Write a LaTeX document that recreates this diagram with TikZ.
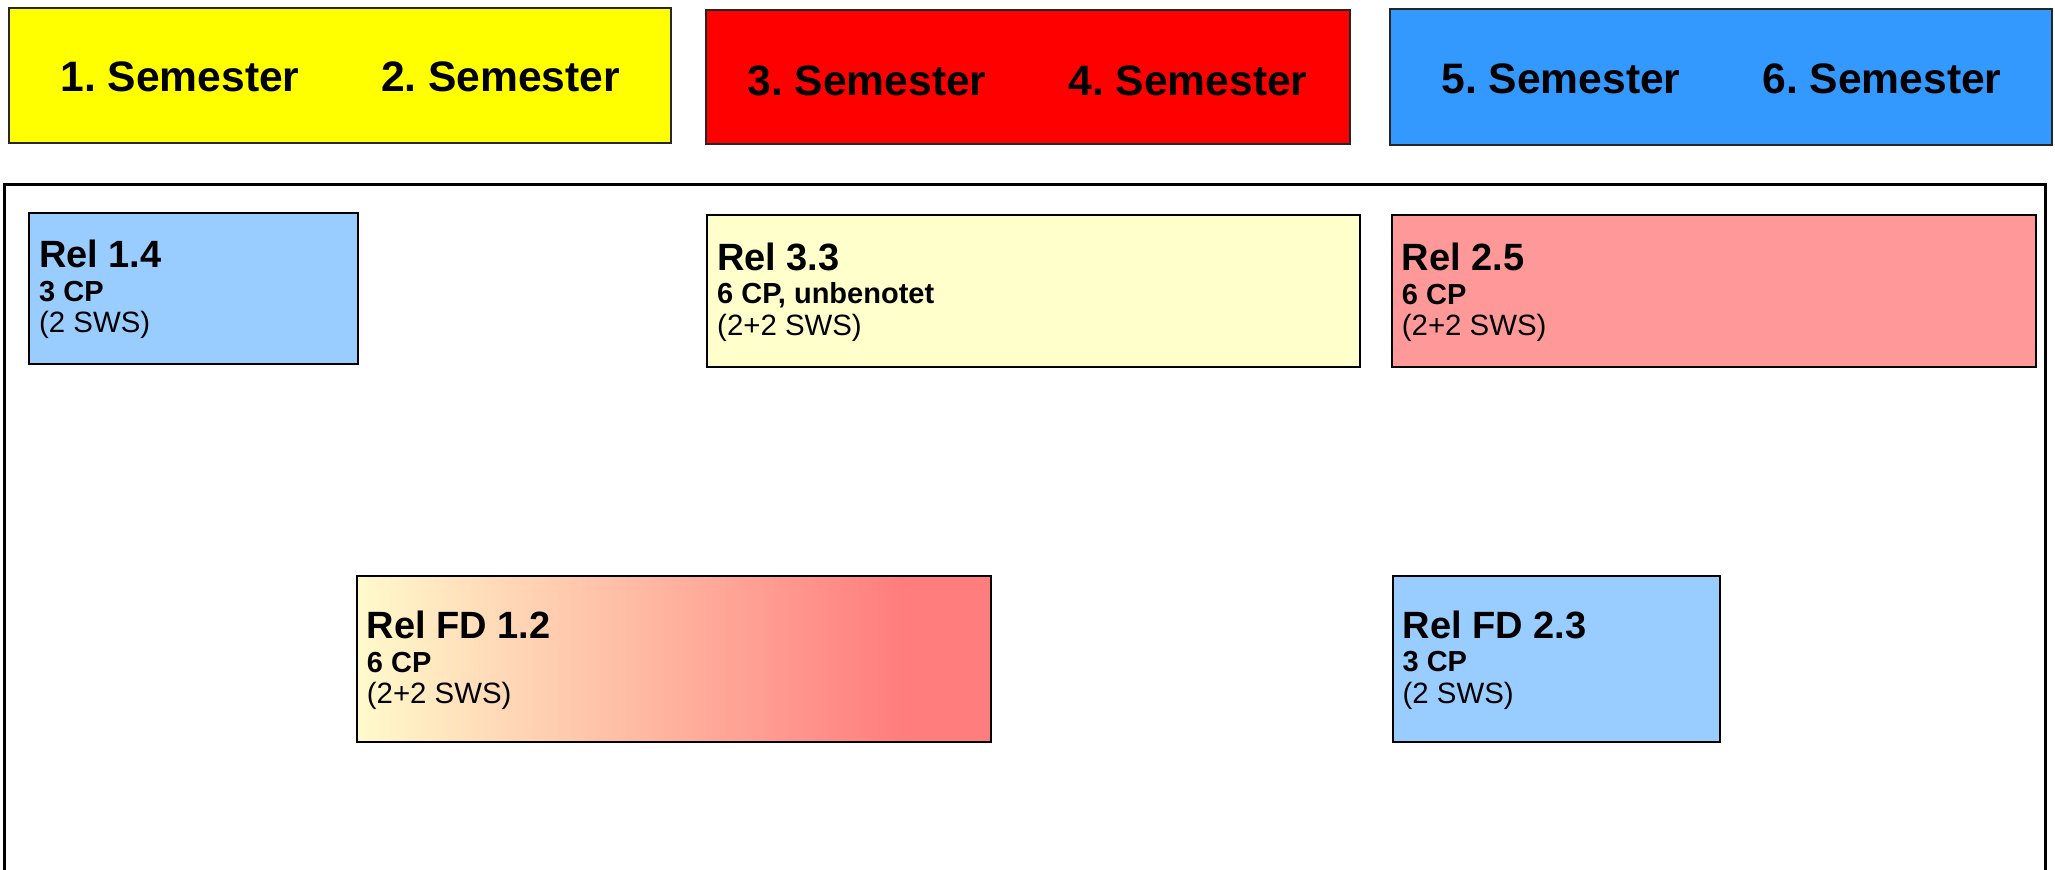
\documentclass[tikz,border=0pt]{standalone}
\usepackage{fontspec}
\setmainfont{Liberation Sans}
\frenchspacing
\definecolor{semyellow}{HTML}{FFFF00}
\definecolor{semred}{HTML}{FF0000}
\definecolor{semblue}{HTML}{3399FF}
\definecolor{lblue}{HTML}{99CCFF}
\definecolor{lyellow}{HTML}{FFFFCC}
\definecolor{lred}{HTML}{FF9999}
\definecolor{fdA}{HTML}{FFFACC}
\definecolor{fdB}{HTML}{FF7D7D}
\pgfdeclarehorizontalshading{fdgrad}{100bp}{color(0bp)=(fdA); color(25bp)=(fdA); color(68bp)=(fdB); color(100bp)=(fdB)}
\begin{document}
\begin{tikzpicture}[x=0.5pt,y=-0.5pt,
  sem/.style={draw=black!85, line width=0.8pt, inner sep=0pt, outer sep=0pt, anchor=north west},
  semtext/.style={font=\fontsize{21.3}{24}\selectfont\bfseries, inner sep=0pt, anchor=base},
  frame/.style={draw=black, line width=1.3pt, inner sep=0pt, outer sep=0pt, anchor=north west},
  modbox/.style={draw=black, line width=1pt, inner sep=0pt, outer sep=0pt, anchor=north west},
  mtitle/.style={font=\fontsize{19}{22}\selectfont\bfseries, inner sep=0pt, anchor=base west},
  mcp/.style={font=\fontsize{14.5}{17}\selectfont\bfseries, inner sep=0pt, anchor=base west},
  msws/.style={font=\fontsize{14.7}{17}\selectfont, inner sep=0pt, anchor=base west},
]
\useasboundingbox (0,0) rectangle (2055,869);
\clip (0,0) rectangle (2055,869);
\fill[white] (0,0) rectangle (2055,869);

% semester headers
\node[sem, fill=semyellow, minimum width=331pt, minimum height=67.5pt] (s12) at (9,8) {};
\node[sem, fill=semred, minimum width=322pt, minimum height=67pt] (s34) at (706,10) {};
\node[sem, fill=semblue, minimum width=331pt, minimum height=68pt] (s56) at (1390,9) {};
\node[semtext] (t1) at (180,91.7) {1. Semester};
\node[semtext] (t2) at (500.6,91.7) {2. Semester};
\node[semtext] (t3) at (867,95) {3. Semester};
\node[semtext] (t4) at (1188,95) {4. Semester};
\node[semtext] (t5) at (1561,93.5) {5. Semester};
\node[semtext] (t6) at (1882,93.5) {6. Semester};

% outer frame
\node[frame, minimum width=1020.4pt, minimum height=357.75pt] (frame) at (4.7,184.5) {};

% modules
\node[modbox, fill=lblue, minimum width=164.35pt, minimum height=75.65pt] (r14) at (29.3,212.7) {};
\node[modbox, fill=lyellow, minimum width=326.35pt, minimum height=75.85pt] (r33) at (707.3,215) {};
\node[modbox, fill=lred, minimum width=322pt, minimum height=76pt] (r25) at (1392,215) {};
\node[modbox, shading=fdgrad, minimum width=316.75pt, minimum height=83pt] (fd12) at (357,576) {};
\node[modbox, fill=lblue, minimum width=163.65pt, minimum height=82.85pt] (fd23) at (1392.7,576) {};

\foreach \b/\ti/\cp/\sw in {r14/Rel 1.4/3 CP/(2 SWS), r33/Rel 3.3/{6 CP, unbenotet}/(2+2 SWS), r25/Rel 2.5/6 CP/(2+2 SWS), fd12/Rel FD 1.2/6 CP/(2+2 SWS), fd23/Rel FD 2.3/3 CP/(2 SWS)}{
  \node[mtitle] (\b-t) at ([xshift=4.75pt,yshift=10.25pt]\b.west) {\ti};
  \node[mcp] (\b-c) at ([xshift=4.75pt,yshift=-6.5pt]\b.west) {\cp};
  \node[msws] (\b-s) at ([xshift=4.75pt,yshift=-22.3pt]\b.west) {\sw};
}
\end{tikzpicture}
\end{document}
